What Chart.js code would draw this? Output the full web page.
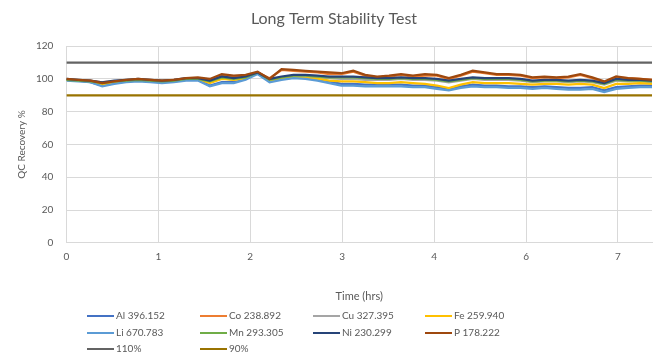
<!DOCTYPE html>
<html>
<head>
<meta charset="utf-8">
<title>Long Term Stability Test</title>
<script src="https://cdn.jsdelivr.net/npm/chart.js@4/dist/chart.umd.min.js"></script>
<style>
  html, body { margin: 0; padding: 0; background: #fff; }
  #wrap { width: 662px; height: 353px; position: relative; }
</style>
</head>
<body>
<div id="wrap"><canvas id="stability"></canvas></div>
<script>
// ---- Data ----
const times = [0, 0.13, 0.26, 0.39, 0.52, 0.65, 0.78, 0.91, 1.04, 1.17,
  1.3, 1.43, 1.56, 1.69, 1.82, 1.95, 2.08, 2.21, 2.34, 2.47,
  2.6, 2.73, 2.86, 2.99, 3.12, 3.25, 3.38, 3.51, 3.64, 3.77,
  3.9, 4.03, 4.16, 4.29, 4.42, 4.55, 4.68, 4.81, 4.94, 5.07,
  5.2, 5.33, 5.46, 5.59, 5.72, 5.85, 5.98, 6.11, 6.24, 6.37];

const xTickLabels = ['0', '1', '2', '3', '4', '6', '7'];
const yTicks = [0, 20, 40, 60, 80, 100, 120];

const al = [99.5, 99, 98, 96, 97.5, 98.5, 99, 98.5, 98, 98.5,
  99.5, 99.5, 96, 98, 98, 100, 103.5, 98.5, 100, 101,
  101, 100, 98.5, 97, 97, 96.5, 96.5, 96.5, 96.5, 96,
  96, 95, 94, 95.5, 96.5, 96, 96, 95.5, 95.5, 95,
  95.5, 95, 94.5, 94.5, 95, 93, 95, 95.5, 96, 96];
const co = [99.5, 99, 99, 98, 98.5, 99, 99.5, 99.5, 99, 99.5,
  100, 100.5, 99.5, 102, 101.5, 102, 104, 100.5, 105.5, 105,
  104.5, 104, 103, 103, 104.5, 102, 101, 101.5, 102.5, 101.5,
  102, 102, 100, 102, 104.5, 103.5, 102.5, 102.5, 102, 100.5,
  101, 100.5, 101, 102.5, 100.5, 98, 101, 100.5, 100, 99.5];
const cu = [99.5, 99, 98.5, 97, 98, 99, 99.5, 99, 98.5, 99,
  99.5, 99.5, 98, 100.5, 99.5, 100.5, 103.5, 99, 100.5, 101.5,
  101.5, 101, 100.5, 100, 100, 99.5, 99.5, 99.5, 100, 99.5,
  99.5, 99, 98, 99, 100, 99.5, 99.5, 99.5, 99, 98,
  98.5, 98.5, 98, 98.5, 98, 96.5, 99, 98.5, 98.5, 98];
const fe = [99.5, 99, 98.5, 96.5, 98, 99, 99.5, 99, 98.5, 99,
  99.5, 100, 97.5, 100, 99.5, 100.5, 103.5, 99, 100, 101,
  100.5, 100, 99, 98.5, 98.5, 98, 97.5, 97.5, 98, 97.5,
  97, 96, 94.5, 96.5, 98, 97.5, 97.5, 97.5, 97, 96.5,
  97, 97, 96.5, 97, 96.5, 94.5, 97, 97, 97.5, 97];
const li = [99, 98.5, 98, 95.5, 97, 98, 98.5, 98, 97.5, 98,
  99, 99, 95.5, 97.5, 97.5, 99.5, 103, 98, 99.5, 100.5,
  100, 99, 97.5, 96, 96, 95.5, 95.5, 95.5, 95.5, 95,
  95, 94, 93, 94.5, 95.5, 95, 95, 94.5, 94.5, 94,
  94.5, 94, 93.5, 93.5, 94, 92, 94, 94.5, 95, 95];
const mn = [99.5, 99, 98.5, 97.5, 98.5, 99, 99.5, 99, 98.5, 99,
  100, 100, 98.5, 101, 100, 101, 104, 99.5, 101, 102,
  102, 101.5, 101, 101, 101, 100.5, 100, 100, 100.5, 100,
  100, 99.5, 98.5, 99.5, 100.5, 100, 100, 100, 99.5, 98.5,
  99, 99, 98.5, 99, 98.5, 97, 99.5, 99, 99, 98.5];
const ni = [100, 99.5, 99, 98, 99, 99.5, 100, 99.5, 99, 99.5,
  100.5, 100.5, 99, 101.5, 100.5, 101.5, 104, 100, 101.5, 102.5,
  102.5, 102, 101.5, 101.5, 101.5, 101, 100.5, 100.5, 101, 100.5,
  100.5, 100, 99, 100, 101, 100.5, 100.5, 100.5, 100, 99,
  99.5, 99.5, 99, 99.5, 99, 97.5, 100, 99.5, 99.5, 99];
const p = [100, 99.5, 99, 97.5, 98.5, 99.5, 100, 99.5, 99, 99.5,
  100.5, 101, 100, 103, 102, 102.5, 104.5, 100, 106, 105.5,
  105, 104.5, 104, 103.5, 105, 102.5, 101.5, 102, 103, 102,
  103, 102.5, 100.5, 102.5, 105, 104, 103, 103, 102.5, 101,
  101.5, 101, 101.5, 103, 101, 98.5, 101.5, 100.5, 100, 99.5];

// control limits, drawn across the whole run
const limitTimes = [0, 6.37];
const upperLimit = [110, 110];
const lowerLimit = [90, 90];

const seriesNames = ['Al 396.152', 'Co 238.892', 'Cu 327.395', 'Fe 259.940',
  'Li 670.783', 'Mn 293.305', 'Ni 230.299', 'P 178.222', '110%', '90%'];
const seriesColors = ['#4472C4', '#ED7D31', '#A5A5A5', '#FFC000',
  '#5B9BD5', '#70AD47', '#264478', '#9E480E', '#636363', '#997300'];

// ---- Build datasets ----
const font = 'Lato, "Open Sans", sans-serif';
const textGrey = '#595959';
const gridGrey = '#D9D9D9';

function pts(xs, ys) {
  return xs.map((x, i) => ({ x: x, y: ys[i] }));
}

const seriesValues = [al, co, cu, fe, li, mn, ni, p];
const datasets = seriesValues.map((vals, i) => ({
  label: seriesNames[i],
  data: pts(times, vals),
  borderColor: seriesColors[i],
  backgroundColor: seriesColors[i],
  borderWidth: 2.25,
}));
datasets.push({
  label: seriesNames[8], data: pts(limitTimes, upperLimit),
  borderColor: seriesColors[8], backgroundColor: seriesColors[8], borderWidth: 2.25,
});
datasets.push({
  label: seriesNames[9], data: pts(limitTimes, lowerLimit),
  borderColor: seriesColors[9], backgroundColor: seriesColors[9], borderWidth: 2.25,
});
// Excel paints later series on top
datasets.forEach((d, i) => { d.order = datasets.length - i; });

// ---- Legend: fixed grid of 4 columns below the axis title ----
const legendGrid = {
  id: 'legendGrid',
  afterDraw(chart) {
    const ctx = chart.ctx;
    const colX = [87, 200, 313, 425];
    const rowY = [316, 333, 349];
    ctx.save();
    ctx.font = '10px ' + font;
    ctx.textBaseline = 'middle';
    ctx.textAlign = 'left';
    chart.data.datasets.forEach((d, i) => {
      const x = colX[i % 4];
      const y = rowY[Math.floor(i / 4)];
      ctx.strokeStyle = d.borderColor;
      ctx.lineWidth = 2;
      ctx.beginPath();
      ctx.moveTo(x, y);
      ctx.lineTo(x + 27, y);
      ctx.stroke();
      ctx.fillStyle = textGrey;
      ctx.fillText(d.label, x + 29, y);
    });
    ctx.restore();
  }
};

new Chart(document.getElementById('stability'), {
  type: 'line',
  data: { datasets },
  plugins: [legendGrid],
  options: {
    responsive: true,
    maintainAspectRatio: false,
    animation: false,
    layout: { padding: { left: 16, right: 10, top: 0, bottom: 50 } },
    elements: {
      point: { radius: 0, hoverRadius: 0 },
      line: { tension: 0 },
    },
    plugins: {
      legend: { display: false },
      tooltip: { enabled: false },
      title: {
        display: true,
        text: 'Long Term Stability Test',
        color: textGrey,
        font: { family: font, size: 16, weight: 'normal' },
        padding: { top: 9, bottom: 18 },
      },
    },
    scales: {
      x: {
        type: 'linear',
        min: 0,
        max: 6.37,
        afterBuildTicks: axis => {
          axis.ticks = xTickLabels.map((_, i) => ({ value: i }));
        },
        ticks: {
          color: textGrey,
          font: { family: font, size: 10 },
          padding: 8,
          maxRotation: 0,
          callback: v => xTickLabels[v],
        },
        grid: { color: gridGrey, drawTicks: false },
        border: { color: gridGrey },
        title: {
          display: true,
          text: 'Time (hrs)',
          color: textGrey,
          font: { family: font, size: 11 },
          padding: { top: 19, bottom: 0 },
        },
      },
      y: {
        min: 0,
        max: 120,
        afterBuildTicks: axis => {
          axis.ticks = yTicks.map(v => ({ value: v }));
        },
        ticks: {
          color: textGrey,
          font: { family: font, size: 10 },
          padding: 13,
        },
        grid: { color: gridGrey, drawTicks: false },
        border: { display: false },
        title: {
          display: true,
          text: 'QC Recovery %',
          color: textGrey,
          font: { family: font, size: 10 },
          padding: { top: 0, bottom: -5 },
        },
      },
    },
  },
});
</script>
</body>
</html>
